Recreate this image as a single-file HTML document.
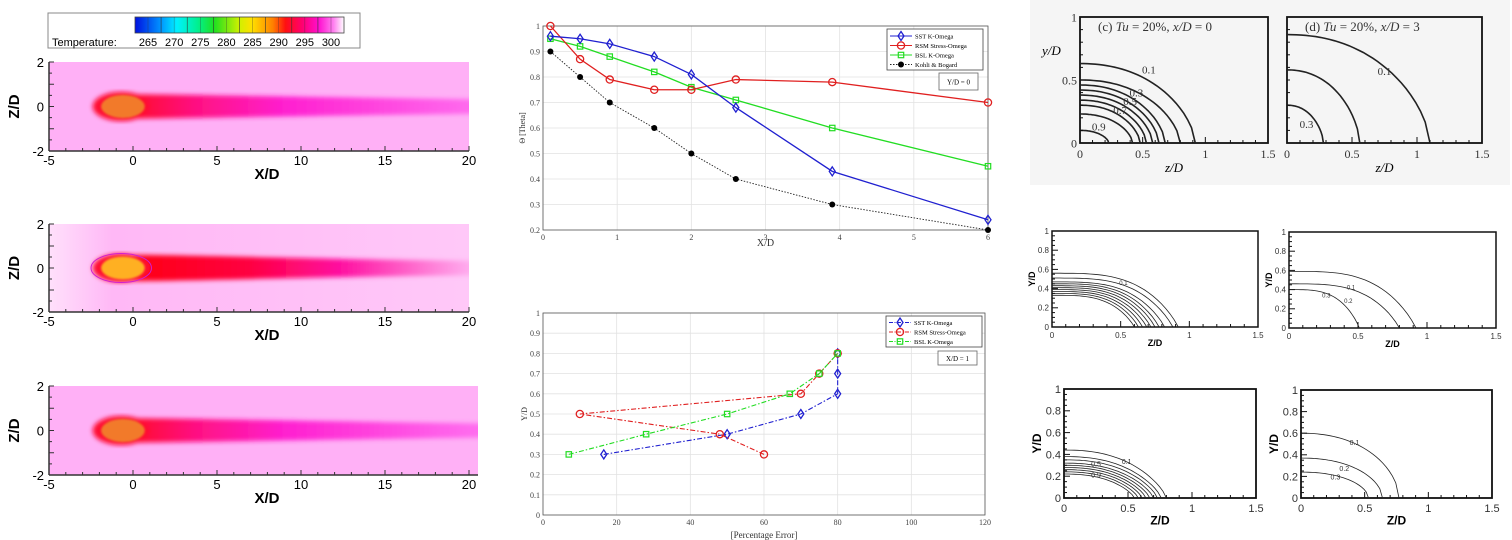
<!DOCTYPE html>
<html><head><meta charset="utf-8">
<style>
html,body{margin:0;padding:0;background:#fff;}
svg{display:block;font-family:"Liberation Sans",sans-serif;}
.serif{font-family:"Liberation Serif",serif;}
</style></head>
<body>
<svg id="root" width="1512" height="540" viewBox="0 0 1512 540" xmlns="http://www.w3.org/2000/svg">
<defs>
<linearGradient id="cbar" x1="0" x2="1" y1="0" y2="0">
<stop offset="0" stop-color="#0010e0"/><stop offset="0.12" stop-color="#0090ff"/>
<stop offset="0.2" stop-color="#00f0ff"/><stop offset="0.3" stop-color="#00f090"/>
<stop offset="0.38" stop-color="#20e020"/><stop offset="0.5" stop-color="#d0f000"/>
<stop offset="0.56" stop-color="#ffe000"/><stop offset="0.66" stop-color="#ff8000"/>
<stop offset="0.72" stop-color="#ff1010"/><stop offset="0.8" stop-color="#ff0070"/>
<stop offset="0.88" stop-color="#ff10d0"/><stop offset="0.95" stop-color="#ff80f0"/>
<stop offset="1" stop-color="#ffffff"/>
</linearGradient>
<linearGradient id="tailA" x1="0" x2="1" y1="0" y2="0">
<stop offset="0" stop-color="#ff1020"/><stop offset="0.2" stop-color="#ff1080"/>
<stop offset="0.45" stop-color="#ff20d0"/><stop offset="1" stop-color="#ff70f0"/>
</linearGradient>
<linearGradient id="tailB" x1="0" x2="1" y1="0" y2="0">
<stop offset="0" stop-color="#ff0010"/><stop offset="0.35" stop-color="#ff0040"/>
<stop offset="0.6" stop-color="#ff10a0"/><stop offset="1" stop-color="#ffc0f8"/>
</linearGradient>
<linearGradient id="bgB" x1="0" x2="1" y1="0" y2="0">
<stop offset="0" stop-color="#ffe0fb"/><stop offset="0.15" stop-color="#ffb8f6"/><stop offset="1" stop-color="#ffc8f8"/>
</linearGradient>
<filter id="blur3"><feGaussianBlur stdDeviation="2.5"/></filter>
<filter id="blur1"><feGaussianBlur stdDeviation="1"/></filter>
</defs>
<g id="left"></g>
<g id="mid"></g>
<g id="right"></g>
</svg>
<script>
// ---------- data ----------
const topX = [0.1,0.5,0.9,1.5,2,2.6,3.9,6];
const topSST = [0.96,0.95,0.93,0.88,0.81,0.68,0.43,0.24];
const topRSM = [1.0,0.87,0.79,0.75,0.75,0.79,0.78,0.70];
const topBSL = [0.95,0.92,0.88,0.82,0.76,0.71,0.60,0.45];
const topKohli = [0.9,0.8,0.7,0.6,0.5,0.4,0.3,0.2];
const topXTicks = [0,1,2,3,4,5,6];
const topYTicks = [0.2,0.3,0.4,0.5,0.6,0.7,0.8,0.9,1];

const botY = [0.3,0.4,0.5,0.6,0.7,0.8];
const botSST = [16.5,50,70,80,80,80];
const botRSM = [60,48,10,70,75,80];
const botBSL = [7,28,50,67,75,80];
const botXTicks = [0,20,40,60,80,100,120];
const botYTicks = [0,0.1,0.2,0.3,0.4,0.5,0.6,0.7,0.8,0.9,1];

const cbarLabels = [265,270,275,280,285,290,295,300];
const hmXTicks = [-5,0,5,10,15,20];
const hmYTicks = [-2,0,2];

// contour (y-intercept, z-intercept) pairs
const expC = [[0.63,0.92],[0.5,0.8],[0.46,0.68],[0.42,0.63],[0.38,0.58],[0.34,0.53],[0.3,0.48],[0.23,0.42],[0.1,0.23]];
const expD = [[0.86,1.1],[0.58,0.56],[0.3,0.28]];
const simTL = [[0.56,0.92],[0.51,0.88],[0.47,0.82],[0.45,0.78],[0.43,0.75],[0.41,0.72],[0.39,0.69],[0.37,0.66],[0.35,0.63],[0.33,0.6]];
const simTR = [[0.59,0.92],[0.46,0.8],[0.4,0.51]];
const simBL = [[0.44,0.8],[0.38,0.76],[0.35,0.73],[0.32,0.7],[0.3,0.67],[0.28,0.64],[0.26,0.61],[0.24,0.58],[0.22,0.55]];
const simBR = [[0.6,0.77],[0.37,0.64],[0.24,0.53]];

const NS='http://www.w3.org/2000/svg';
function mk(parent,tag,attrs,text){const e=document.createElementNS(NS,tag);for(const k in attrs)e.setAttribute(k,attrs[k]);if(text!==undefined)e.textContent=text;parent.appendChild(e);return e;}
const L=document.getElementById('left'),M=document.getElementById('mid'),R=document.getElementById('right');

// ---------- left: heatmaps ----------
(function(){
  const cb=mk(L,'g',{});
  
  
  mk(cb,'rect',{x:48,y:13,width:312,height:35,fill:'#fff',stroke:'#888','stroke-width':1});
  mk(cb,'rect',{x:135,y:17,width:209,height:16,fill:'url(#cbar)',stroke:'#444','stroke-width':0.8});
  const cx=v=>148+(v-265)*(331-148)/35;
  for(let v=262.5;v<=302.5;v+=2.5){ if(v>262.5&&v<302.5) mk(cb,'line',{x1:cx(v+0.0),x2:cx(v),y1:17,y2:33,stroke:'#333','stroke-width':(v%5===2.5)?0.6:0.3}); }
  mk(cb,'text',{x:52,y:46,'font-size':11,fill:'#000'},'Temperature:');
  cbarLabels.forEach(v=>{const t=mk(cb,'text',{x:cx(v),y:46,'font-size':11,'text-anchor':'middle'},v);
    });

  const plots=[{y0:62,y1:151,kind:'A',w:469},{y0:224,y1:312,kind:'B',w:469},{y0:386,y1:475,kind:'A',w:478}];
  plots.forEach((p,i)=>{
    const g=mk(L,'g',{});
    
    
    const sx=v=>49+(v+5)*(469-49)/25;
    const sy=v=>p.y1-(v+2)*(p.y1-p.y0)/4;
    const right=Math.min(p.w,478);
    mk(g,'rect',{x:49,y:p.y0,width:right-49,height:p.y1-p.y0,fill:p.kind==='B'?'url(#bgB)':'#ffb0f6'});
    const clip=mk(g,'clipPath',{id:'hc'+i});mk(clip,'rect',{x:49,y:p.y0,width:right-49,height:p.y1-p.y0});
    const inner=mk(g,'g',{'clip-path':'url(#hc'+i+')'});
    const fg=mk(inner,'g',{filter:'url(#blur3)'});
    const hw0=p.kind==='B'?0.6:0.55;
    // tail
    mk(fg,'path',{d:`M${sx(-0.7)},${sy(hw0)} C${sx(3)},${sy(hw0)} ${sx(10)},${sy(0.42)} ${sx(21)},${sy(0.32)} L${sx(21)},${sy(-0.32)} C${sx(10)},${sy(-0.42)} ${sx(3)},${sy(-hw0)} ${sx(-0.7)},${sy(-hw0)} Z`,
      fill:p.kind==='B'?'url(#tailB)':'url(#tailA)'});
    // head
    mk(fg,'ellipse',{cx:sx(-0.7),cy:sy(0),rx:sx(0.15)-sx(-1.55),ry:(sy(-0.66)-sy(0.66))/2,fill:'#ff1030'});
    const hf=mk(inner,'g',{filter:'url(#blur1)'});
    mk(hf,'ellipse',{cx:sx(-0.6),cy:sy(0),rx:sx(0)-sx(-1.3),ry:(sy(-0.52)-sy(0.52))/2,fill:p.kind==='B'?'#ffb020':'#f27a2a'});
    if(p.kind==='B') mk(inner,'ellipse',{cx:sx(-0.7),cy:sy(0),rx:sx(0.2)-sx(-1.6),ry:(sy(-0.66)-sy(0.66))/2,fill:'none',stroke:'#d020d0','stroke-width':1});
    // axes
    mk(g,'line',{x1:49,x2:49,y1:p.y0,y2:p.y1,stroke:'#333','stroke-width':1.5});
    mk(g,'line',{x1:49,x2:right,y1:p.y1,y2:p.y1,stroke:'#333','stroke-width':1.5});
    for(let v=-5;v<=20;v+=1){const X=sx(v);if(X>right)break;mk(g,'line',{x1:X,x2:X,y1:p.y1,y2:p.y1-(v%5===0?5:3),stroke:'#333','stroke-width':1});}
    for(let v=-2;v<=2;v+=0.5){mk(g,'line',{x1:49,x2:49+(v%1===0?5:3),y1:sy(v),y2:sy(v),stroke:'#333','stroke-width':1});}
    hmXTicks.forEach(v=>{const X=sx(v);if(X>right+3)return;const t=mk(g,'text',{x:Math.min(X,right),y:p.y1+14,'font-size':13,'text-anchor':'middle'},v);
      });
    hmYTicks.forEach(v=>{const t=mk(g,'text',{x:44,y:sy(v)+5,'font-size':13,'text-anchor':'end'},v);
      });
    const xt=mk(g,'text',{x:(49+469)/2+8,y:p.y1+28,'font-size':15,'font-weight':'bold','text-anchor':'middle'},'X/D');
    
    const yt=mk(g,'text',{x:0,y:0,'font-size':15,'font-weight':'bold','text-anchor':'middle',transform:`translate(19,${(p.y0+p.y1)/2}) rotate(-90)`},'Z/D');
    
  });
})();

// ---------- middle charts ----------
function marker(g,type,x,y,color){
  if(type==='diamond') mk(g,'path',{d:`M${x},${y-4.5} L${x+3},${y} L${x},${y+4.5} L${x-3},${y} Z`,fill:'none',stroke:color,'stroke-width':1.3});
  else if(type==='circle') mk(g,'circle',{cx:x,cy:y,r:3.6,fill:'none',stroke:color,'stroke-width':1.3});
  else if(type==='square') mk(g,'rect',{x:x-2.7,y:y-2.7,width:5.4,height:5.4,fill:'none',stroke:color,'stroke-width':1.2});
  else if(type==='dot') mk(g,'circle',{cx:x,cy:y,r:3,fill:'#000'});
}
(function(){
  const g=mk(M,'g',{class:'serif'});
  
  
  const X0=543,X1=988,Y0=26,Y1=230;
  const sx=v=>X0+v*(X1-X0)/6, sy=v=>Y1-(v-0.2)*(Y1-Y0)/0.8;
  mk(g,'rect',{x:X0,y:Y0,width:X1-X0,height:Y1-Y0,fill:'#fff'});
  topXTicks.forEach(v=>{mk(g,'line',{x1:sx(v),x2:sx(v),y1:Y0,y2:Y1,stroke:'#e2e2e2','stroke-width':0.8});
    const t=mk(g,'text',{x:sx(v),y:Y1+10,'font-size':8,'text-anchor':'middle',fill:'#444'},v);
    });
  topYTicks.forEach(v=>{mk(g,'line',{x1:X0,x2:X1,y1:sy(v),y2:sy(v),stroke:'#e2e2e2','stroke-width':0.8});
    const t=mk(g,'text',{x:X0-3,y:sy(v)+3,'font-size':8,'text-anchor':'end',fill:'#444'},+v.toFixed(1));
    });
  mk(g,'rect',{x:X0,y:Y0,width:X1-X0,height:Y1-Y0,fill:'none',stroke:'#555','stroke-width':0.8});
  const series=[{d:topKohli,c:'#222',m:'dot',dash:'1.5,1.5',n:'kohli-bogard-series',w:0.9},{d:topBSL,c:'#22dd22',m:'square',n:'bsl-k-omega-series',w:1.3},
    {d:topRSM,c:'#e02020',m:'circle',n:'rsm-stress-omega-series',w:1.3},{d:topSST,c:'#2020d0',m:'diamond',n:'sst-k-omega-series',w:1.3}];
  series.forEach(s=>{const sg=mk(g,'g',{});
    
    const pts=s.d.map((v,i)=>sx(topX[i])+','+sy(v)).join(' ');
    const a={points:pts,fill:'none',stroke:s.c,'stroke-width':s.w};if(s.dash)a['stroke-dasharray']=s.dash;
    mk(sg,'polyline',a);s.d.forEach((v,i)=>marker(sg,s.m,sx(topX[i]),sy(v),s.c));});
  const lg=mk(g,'g',{});
  mk(lg,'rect',{x:887,y:29,width:96,height:41,fill:'#fff',stroke:'#444','stroke-width':0.8});
  [['SST K-Omega','#2020d0','diamond'],['RSM Stress-Omega','#e02020','circle'],['BSL K-Omega','#22dd22','square'],['Kohli & Bogard','#222','dot']].forEach((e,i)=>{
    const y=36+i*9.5;const eg=mk(lg,'g',{});
    const a={x1:890,x2:912,y1:y,y2:y,stroke:e[1],'stroke-width':1.1};if(i===3)a['stroke-dasharray']='1.5,1.5';mk(eg,'line',a);
    marker(eg,e[2],901,y,e[1]);mk(eg,'text',{x:915,y:y+2.5,'font-size':6.5},e[0]);});
  const bx=mk(g,'g',{});
  mk(bx,'rect',{x:939,y:73,width:39,height:17,fill:'#fff',stroke:'#666','stroke-width':0.8});
  mk(bx,'text',{x:958.5,y:84.5,'font-size':7,'text-anchor':'middle'},'Y/D = 0');
  const xt=mk(g,'text',{x:(X0+X1)/2,y:246,'font-size':10,'text-anchor':'middle',fill:'#333'},'X/D');
  const yt=mk(g,'text',{x:0,y:0,'font-size':8,'text-anchor':'middle',fill:'#333',transform:`translate(525,${(Y0+Y1)/2}) rotate(-90)`},'Θ [Theta]');
})();
(function(){
  const g=mk(M,'g',{class:'serif'});
  
  
  const X0=543,X1=985,Y0=313,Y1=515;
  const sx=v=>X0+v*(X1-X0)/120, sy=v=>Y1-v*(Y1-Y0);
  botXTicks.forEach(v=>{mk(g,'line',{x1:sx(v),x2:sx(v),y1:Y0,y2:Y1,stroke:'#e2e2e2','stroke-width':0.8});
    const t=mk(g,'text',{x:sx(v),y:Y1+10,'font-size':8,'text-anchor':'middle',fill:'#444'},v);
    });
  botYTicks.forEach(v=>{mk(g,'line',{x1:X0,x2:X1,y1:sy(v),y2:sy(v),stroke:'#e2e2e2','stroke-width':0.8});
    const t=mk(g,'text',{x:X0-3,y:sy(v)+3,'font-size':8,'text-anchor':'end',fill:'#444'},+v.toFixed(1));
    });
  mk(g,'rect',{x:X0,y:Y0,width:X1-X0,height:Y1-Y0,fill:'none',stroke:'#555','stroke-width':0.8});
  const series=[{d:botSST,c:'#2020d0',m:'diamond',n:'sst-k-omega-series'},{d:botRSM,c:'#e02020',m:'circle',n:'rsm-stress-omega-series'},{d:botBSL,c:'#22dd22',m:'square',n:'bsl-k-omega-series'}];
  series.forEach(s=>{const sg=mk(g,'g',{});
    
    const pts=s.d.map((v,i)=>sx(v)+','+sy(botY[i])).join(' ');
    mk(sg,'polyline',{points:pts,fill:'none',stroke:s.c,'stroke-width':1.1,'stroke-dasharray':'5,2,1.5,2'});
    s.d.forEach((v,i)=>marker(sg,s.m,sx(v),sy(botY[i]),s.c));});
  const lg=mk(g,'g',{});
  mk(lg,'rect',{x:886,y:316,width:96,height:31,fill:'#fff',stroke:'#444','stroke-width':0.8});
  [['SST K-Omega','#2020d0','diamond'],['RSM Stress-Omega','#e02020','circle'],['BSL K-Omega','#22dd22','square']].forEach((e,i)=>{
    const y=322.5+i*9.5;const eg=mk(lg,'g',{});
    mk(eg,'line',{x1:889,x2:911,y1:y,y2:y,stroke:e[1],'stroke-width':1.1,'stroke-dasharray':'4,1.5,1,1.5'});
    marker(eg,e[2],900,y,e[1]);mk(eg,'text',{x:914,y:y+2.5,'font-size':6.5},e[0]);});
  const bx=mk(g,'g',{});
  mk(bx,'rect',{x:938,y:351,width:39,height:14,fill:'#fff',stroke:'#666','stroke-width':0.8});
  mk(bx,'text',{x:957.5,y:361,'font-size':7,'text-anchor':'middle'},'X/D = 1');
  const xt=mk(g,'text',{x:(X0+X1)/2,y:538,'font-size':9,'text-anchor':'middle',fill:'#333'},'[Percentage Error]');
  const yt=mk(g,'text',{x:0,y:0,'font-size':8,'text-anchor':'middle',fill:'#333',transform:`translate(527,${(Y0+Y1)/2}) rotate(-90)`},'Y/D');
})();

// ---------- right: contour panels ----------
function contourPath(sx,sy,y0,z0,p,q){
  let d='';for(let k=0;k<=30;k++){const z=z0*k/30;const y=y0*Math.pow(Math.max(0,1-Math.pow(z/z0,p)),1/q);d+=(k?'L':'M')+sx(z).toFixed(1)+','+sy(y).toFixed(1);}return d;}
function panel(o){
  const g=mk(R,'g',{class:o.serif?'serif':''});
  
  
  const sx=v=>o.x0+v*(o.x1-o.x0)/1.5, sy=v=>o.y0-v*(o.y0-o.y1);
  mk(g,'rect',{x:o.x0,y:o.y1,width:o.x1-o.x0,height:o.y0-o.y1,fill:o.bg,stroke:'#111','stroke-width':o.bw});
  o.curves.forEach(c=>mk(g,'path',{d:contourPath(sx,sy,c[0],c[1],o.p,o.q),fill:'none',stroke:'#222','stroke-width':o.lw}));
  o.ticksX.forEach(v=>{mk(g,'line',{x1:sx(v),x2:sx(v),y1:sy(0),y2:sy(0)-(v%0.5===0?6:3),stroke:'#111','stroke-width':1});
    if(v%0.5===0){const t=mk(g,'text',{x:sx(v),y:sy(0)+o.fs+3,'font-size':o.fs,'text-anchor':'middle',fill:'#333'},v);}});
  o.ticksY.forEach(v=>{mk(g,'line',{x1:sx(0),x2:sx(0)+(o.major(v)?6:3),y1:sy(v),y2:sy(v),stroke:'#111','stroke-width':1});
    if(o.major(v)){const t=mk(g,'text',{x:sx(0)-3,y:sy(v)+o.fs/2.8,'font-size':o.fs,'text-anchor':'end',fill:'#333'},+v.toFixed(1));}});
  const xt=mk(g,'text',{x:(o.x0+o.x1)/2,y:sy(0)+o.fs*2.4,'font-size':o.fs+1,'text-anchor':'middle','font-weight':o.serif?'normal':'bold','font-style':o.serif?'italic':'normal'},o.xl);
  
  if(o.yl){const yt=mk(g,'text',{x:0,y:0,'font-size':o.fs+1,'text-anchor':'middle','font-weight':'bold',transform:`translate(${o.x0-o.fs*2.1},${sy(0.5)}) rotate(-90)`},o.yl);}
  (o.labels||[]).forEach(l=>{const t=mk(g,'text',{x:sx(l[0]),y:sy(l[1]),'font-size':o.lfs,fill:'#333','text-anchor':'middle'},l[2]);});
  if(o.title){const t=mk(g,'text',{x:o.x0+18,y:o.y1+14,'font-size':13,fill:'#333'});t.innerHTML=o.title;}
  return g;
}
mk(R,'rect',{x:1030,y:0,width:480,height:185,fill:'#f5f5f5'});
const tick5=[];for(let i=0;i<=15;i++)tick5.push(+(i*0.1).toFixed(1));
const tickY=[];for(let i=0;i<=10;i++)tickY.push(+(i*0.1).toFixed(1));
const tickY2=[];for(let i=0;i<=20;i++)tickY2.push(+(i*0.05).toFixed(2));
panel({name:'experiment-panel-c',x0:1080,x1:1268,y0:143,y1:17,curves:expC,p:2.2,q:1.6,lw:1.6,bw:1.8,bg:'#f5f5f5',serif:true,fs:12,xl:'z/D',
  ticksX:tick5,ticksY:tickY,major:v=>v%0.5===0,labels:[[0.55,0.55,'0.1'],[0.45,0.37,'0.3'],[0.4,0.3,'0.5'],[0.32,0.23,'0.7'],[0.15,0.1,'0.9']],lfs:11,
  title:'(c) <tspan font-style="italic">Tu</tspan> = 20%, <tspan font-style="italic">x/D</tspan> = 0'});
const yl=mk(R,'text',{x:1042,y:55,'font-size':13,'font-style':'italic',class:'serif'},'y/D');
panel({name:'experiment-panel-d',x0:1287,x1:1482,y0:143,y1:17,curves:expD,p:2.2,q:1.6,lw:1.6,bw:1.8,bg:'#f5f5f5',serif:true,fs:12,xl:'z/D',
  ticksX:tick5,ticksY:tickY,major:v=>false,labels:[[0.75,0.54,'0.1'],[0.15,0.12,'0.3']],lfs:11,
  title:'(d) <tspan font-style="italic">Tu</tspan> = 20%, <tspan font-style="italic">x/D</tspan> = 3'});
panel({name:'simulation-panel-top-left',x0:1052,x1:1258,y0:327,y1:231,curves:simTL,p:3.5,q:1.1,lw:0.8,bw:1.5,bg:'#fff',fs:8,xl:'Z/D',yl:'Y/D',
  ticksX:tick5,ticksY:tickY2,major:v=>Math.abs(v*10-Math.round(v*10))<1e-6&&Math.round(v*10)%2===0,labels:[[0.52,0.44,'0.1']],lfs:6});
panel({name:'simulation-panel-top-right',x0:1289,x1:1496,y0:328,y1:232,curves:simTR,p:3.5,q:1.1,lw:0.8,bw:1.5,bg:'#fff',fs:8,xl:'Z/D',yl:'Y/D',
  ticksX:tick5,ticksY:tickY2,major:v=>Math.abs(v*10-Math.round(v*10))<1e-6&&Math.round(v*10)%2===0,labels:[[0.45,0.4,'0.1'],[0.43,0.26,'0.2'],[0.27,0.32,'0.3']],lfs:6});
panel({name:'simulation-panel-bottom-left',x0:1064,x1:1256,y0:498,y1:389,curves:simBL,p:2.4,q:1.3,lw:0.8,bw:1.8,bg:'#fff',fs:11,xl:'Z/D',yl:'Y/D',
  ticksX:tick5,ticksY:tickY2,major:v=>Math.abs(v*10-Math.round(v*10))<1e-6&&Math.round(v*10)%2===0,labels:[[0.49,0.31,'0.1'],[0.25,0.29,'0.5'],[0.25,0.19,'0.9']],lfs:7});
panel({name:'simulation-panel-bottom-right',x0:1301,x1:1492,y0:498,y1:390,curves:simBR,p:2.2,q:1.8,lw:0.8,bw:1.8,bg:'#fff',fs:11,xl:'Z/D',yl:'Y/D',
  ticksX:tick5,ticksY:tickY2,major:v=>Math.abs(v*10-Math.round(v*10))<1e-6&&Math.round(v*10)%2===0,labels:[[0.42,0.49,'0.1'],[0.34,0.25,'0.2'],[0.27,0.17,'0.3']],lfs:7});
</script>
</body></html>
